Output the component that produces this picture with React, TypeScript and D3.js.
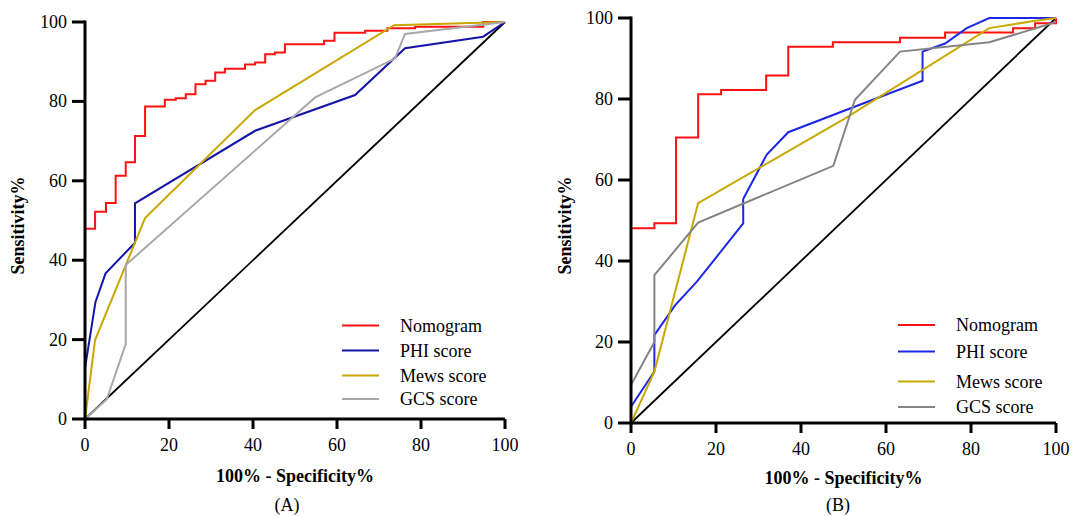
import * as d3 from 'd3';

// ROC points, [100% - specificity, sensitivity]
const nomogramA: [number, number][] = [
  [0, 0], [0, 47.9], [2.4, 52.2], [5, 54.4], [7.3, 61.3], [9.7, 64.7], [11.9, 71.3],
  [14.3, 78.7], [19, 80.4], [21.6, 80.8], [24, 81.8], [26.3, 84.3], [28.7, 85.2],
  [31, 87.3], [33.3, 88.2], [38.1, 89.3], [40.5, 89.8], [42.9, 91.9], [45.2, 92.3],
  [47.6, 94.4], [56.9, 95.3], [59.4, 97.3], [66.7, 97.8], [72, 98.4], [78.6, 98.8],
  [94.8, 100], [100, 100],
];
const phiA: [number, number][] = [
  [0, 0], [0, 12.8], [2.5, 29.5], [4.9, 36.7], [11.9, 44.4], [11.9, 54.3],
  [40.5, 72.6], [64.3, 81.6], [76.2, 93.4], [94.8, 96.3], [100, 100],
];
const mewsA: [number, number][] = [
  [0, 0], [2.4, 19.9], [14.3, 50.6], [40.5, 77.8], [73.6, 99.2], [100, 100],
];
const gcsA: [number, number][] = [
  [0, 0], [5.2, 5], [9.7, 18.9], [9.7, 38.8], [54.8, 81], [73.8, 90.8], [76.2, 97], [100, 100],
];

const nomogramB: [number, number][] = [
  [0, 0], [0, 48.1], [5.5, 49.3], [10.6, 70.5], [15.8, 81.2], [21.2, 82.2], [31.8, 85.8],
  [37, 92.9], [47.5, 94], [63.3, 95.1], [73.9, 96.4], [89.9, 97.5], [95.1, 98.7], [100, 100],
];
const phiB: [number, number][] = [
  [0, 0], [0, 4], [5.5, 12.7], [5.5, 21.7], [10.4, 29.1], [15.5, 34.9], [20.2, 41.1],
  [26.4, 49.3], [26.4, 55.3], [31.9, 66.2], [37, 71.8], [59.8, 81], [68.6, 84.5],
  [68.6, 91.7], [73.9, 93.7], [79, 97.5], [84.3, 100], [100, 100],
];
const mewsB: [number, number][] = [
  [0, 0], [5.5, 12.7], [15.8, 54.3], [50.4, 75.2], [84.3, 97.5], [95.1, 99.3], [100, 100],
];
const gcsB: [number, number][] = [
  [0, 0], [0, 9.4], [5.5, 20], [5.5, 36.5], [15.8, 49.5], [47.6, 63.5], [52.7, 79.8],
  [63.3, 91.7], [84.3, 94], [100, 99],
];

const reference: [number, number][] = [[0, 0], [100, 100]];
const legendNames = ['Nomogram', 'PHI score', 'Mews score', 'GCS score'];
const tickValues = [0, 20, 40, 60, 80, 100];

const FONT = 'Liberation Serif, Times New Roman, serif';

interface Series {
  name: string;
  data: [number, number][];
  color: string;
  step?: boolean;
}

interface PanelProps {
  xr: [number, number];
  yr: [number, number];
  series: Series[];
  legendX: number;
  legendYs: number[];
  yTitleX: number;
  xTitleY: number;
  label: string;
  labelX: number;
  labelY: number;
}

function Panel({ xr, yr, series, legendX, legendYs, yTitleX, xTitleY, label, labelX, labelY }: PanelProps) {
  const x = d3.scaleLinear().domain([0, 100]).range(xr);
  const y = d3.scaleLinear().domain([0, 100]).range(yr);
  const line = d3.line<[number, number]>().x(d => x(d[0])).y(d => y(d[1]));
  const stepLine = d3.line<[number, number]>().x(d => x(d[0])).y(d => y(d[1])).curve(d3.curveStepAfter);
  const midX = (xr[0] + xr[1]) / 2;
  const midY = (yr[0] + yr[1]) / 2;

  return (
    <g fontFamily={FONT}>
      <path d={line(reference)!} fill="none" stroke="#000" strokeWidth={1.8} />
      {series.map(s => (
        <path key={s.name} d={(s.step ? stepLine : line)(s.data)!} fill="none"
          stroke={s.color} strokeWidth={2} strokeLinejoin="miter" />
      ))}

      {/* axes */}
      <line x1={x(0)} x2={x(100)} y1={y(0)} y2={y(0)} stroke="#000" strokeWidth={3} />
      <line x1={x(0)} x2={x(0)} y1={y(0) + 1.5} y2={y(100) - 1.5} stroke="#000" strokeWidth={3} />
      {tickValues.map(t => (
        <g key={'x' + t}>
          <line x1={x(t)} x2={x(t)} y1={y(0)} y2={y(0) + 10} stroke="#000" strokeWidth={3} />
          <text x={x(t)} y={y(0) + 32} textAnchor="middle" fontSize={18}>{t}</text>
        </g>
      ))}
      {tickValues.map(t => (
        <g key={'y' + t}>
          <line x1={x(0) - 13} x2={x(0)} y1={y(t)} y2={y(t)} stroke="#000" strokeWidth={3} />
          <text x={x(0) - 18} y={y(t) + 6} textAnchor="end" fontSize={18}>{t}</text>
        </g>
      ))}

      <text x={midX} y={xTitleY} textAnchor="middle" fontSize={18} fontWeight="bold">
        100% - Specificity%
      </text>
      <text x={labelX} y={labelY} textAnchor="middle" fontSize={18}>{label}</text>
      <text transform={`translate(${yTitleX},${midY + 5}) rotate(-90)`} textAnchor="middle"
        fontSize={18} fontWeight="bold">Sensitivity%</text>

      {/* legend */}
      {series.map((s, i) => (
        <g key={'lg' + s.name}>
          <line x1={legendX} x2={legendX + 37} y1={legendYs[i]} y2={legendYs[i]} stroke={s.color} strokeWidth={2} />
          <text x={legendX + 58} y={legendYs[i] + 6} fontSize={18}>{s.name}</text>
        </g>
      ))}
    </g>
  );
}

export default function App() {
  const seriesA: Series[] = [
    { name: legendNames[0], data: nomogramA, color: '#ff1010', step: true },
    { name: legendNames[1], data: phiA, color: '#1414aa' },
    { name: legendNames[2], data: mewsA, color: '#c9a600' },
    { name: legendNames[3], data: gcsA, color: '#a8a8a8' },
  ];
  const seriesB: Series[] = [
    { name: legendNames[0], data: nomogramB, color: '#ff1010', step: true },
    { name: legendNames[1], data: phiB, color: '#1c28e6' },
    { name: legendNames[2], data: mewsB, color: '#c9a800' },
    { name: legendNames[3], data: gcsB, color: '#848484' },
  ];

  return (
    <svg width={1072} height={516} style={{ position: 'absolute', left: 0, top: 0, background: '#fff' }}>
      <rect width={1072} height={516} fill="#fff" />
      <Panel xr={[85, 505]} yr={[419, 22]} series={seriesA} legendX={342}
        legendYs={[325.5, 350.5, 375.5, 399]} yTitleX={24} xTitleY={482} label="(A)" labelX={287} labelY={511} />
      <Panel xr={[631, 1056]} yr={[423, 18]} series={seriesB} legendX={898}
        legendYs={[325, 351.5, 381.5, 407]} yTitleX={571} xTitleY={484} label="(B)" labelX={838} labelY={511} />
    </svg>
  );
}
